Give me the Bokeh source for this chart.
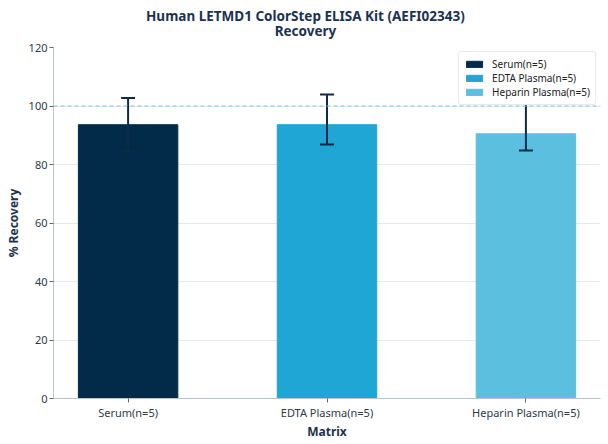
from bokeh.plotting import figure
from bokeh.layouts import column
from bokeh.models import (ColumnDataSource, Range1d, FixedTicker, Span,
                          Legend, LegendItem)
from bokeh.core.properties import value
from bokeh.embed import file_html
from bokeh.resources import INLINE

# ---- data ----
categories = ["Serum(n=5)", "EDTA Plasma(n=5)", "Heparin Plasma(n=5)"]
recovery = [93.6, 93.6, 90.5]
err_low = [84.5, 86.8, 84.8]
err_high = [102.7, 103.9, 103.0]
colors = ["#022b4a", "#1fa6d4", "#5bbfe0"]
y_ticks = [0, 20, 40, 60, 80, 100, 120]
title_lines = ["Human LETMD1 ColorStep ELISA Kit (AEFI02343)", "Recovery"]

FONT = "Noto Sans"
NAVY = "#1b3350"
bar_w = 0.5
cap_w = 0.07
W = 608
TITLE_H = 40

# ---- title strip ----
t = figure(width=W, height=TITLE_H, output_backend="svg", toolbar_location=None,
           x_range=Range1d(0, W), y_range=Range1d(0, TITLE_H),
           x_axis_location=None, y_axis_location=None,
           min_border_left=0, min_border_right=0, min_border_top=0,
           min_border_bottom=0, title=None)
t.outline_line_color = None
t.xgrid.grid_line_color = None
t.ygrid.grid_line_color = None
t.text(x=[280, 280], y=[TITLE_H - 15, TITLE_H - 30], text=title_lines,
       text_align="center", text_baseline="middle",
       text_font=value(FONT), text_font_size="13.5px",
       text_font_style="bold", text_color=NAVY)

# ---- main plot ----
xs = list(range(len(categories)))

p = figure(width=W, height=444 - TITLE_H, output_backend="svg",
           toolbar_location=None,
           x_range=Range1d(-0.375, 2.375), y_range=Range1d(0, 120),
           min_border_left=53, min_border_right=8, min_border_top=47 - TITLE_H,
           min_border_bottom=46, title=None)
p.outline_line_color = None
p.background_fill_color = "white"
p.border_fill_color = "white"

# axes
p.xaxis.ticker = FixedTicker(ticks=xs)
p.xaxis.major_label_overrides = {i: c for i, c in enumerate(categories)}
p.yaxis.ticker = FixedTicker(ticks=y_ticks)
for ax in (p.xaxis[0], p.yaxis[0]):
    ax.axis_line_color = "#b9c5cd"
    ax.major_tick_line_color = "#5a6670"
    ax.major_tick_out = 4
    ax.major_tick_in = 0
    ax.minor_tick_line_color = None
    ax.major_label_text_font = FONT
    ax.major_label_text_font_size = "11px"
    ax.major_label_text_color = "#2e3a46"
    ax.axis_label_text_font = FONT
    ax.axis_label_text_font_size = "12px"
    ax.axis_label_text_font_style = "bold"
    ax.axis_label_text_color = NAVY
p.xaxis.axis_label = "Matrix"
p.yaxis.axis_label = "% Recovery"
p.xaxis.axis_label_standoff = 0
p.yaxis.axis_label_standoff = 4
p.xaxis.major_label_standoff = 2
p.yaxis.major_label_standoff = 2
p.xgrid.grid_line_color = None
p.ygrid.grid_line_color = "#e4e9ed"
p.ygrid.grid_line_width = 1

# bars
src = ColumnDataSource(dict(x=xs, top=recovery, color=colors, cat=categories,
                            lo=err_low, hi=err_high,
                            cl=[x - cap_w / 2 for x in xs],
                            cr=[x + cap_w / 2 for x in xs]))
bars = p.vbar(x="x", top="top", width=bar_w, color="color", source=src)

# reference line
p.add_layout(Span(location=100, dimension="width", line_color="#86c3d2",
                  line_dash="4 3", line_width=1))

# error bars
p.segment(x0="x", x1="x", y0="lo", y1="hi", line_color="#0f2a45",
          line_width=2, source=src)
p.segment(x0="cl", x1="cr", y0="hi", y1="hi", line_color="#0f2a45",
          line_width=2, source=src)
p.segment(x0="cl", x1="cr", y0="lo", y1="lo", line_color="#0f2a45",
          line_width=2, source=src)

# legend
items = [LegendItem(label=c, renderers=[bars], index=i)
         for i, c in enumerate(categories)]
legend = Legend(items=items, location="top_right")
legend.label_text_font = FONT
legend.label_text_font_size = "10px"
legend.label_text_color = "#222222"
legend.glyph_width = 20
legend.glyph_height = 8
legend.label_height = 10
legend.label_standoff = 8
legend.spacing = 0
legend.padding = 5
legend.margin = 4
legend.border_line_color = "#d0d6db"
legend.border_radius = 3
legend.background_fill_alpha = 1
p.add_layout(legend)

layout = column(t, p, spacing=0)
open("out.html", "w").write(file_html(layout, INLINE))
